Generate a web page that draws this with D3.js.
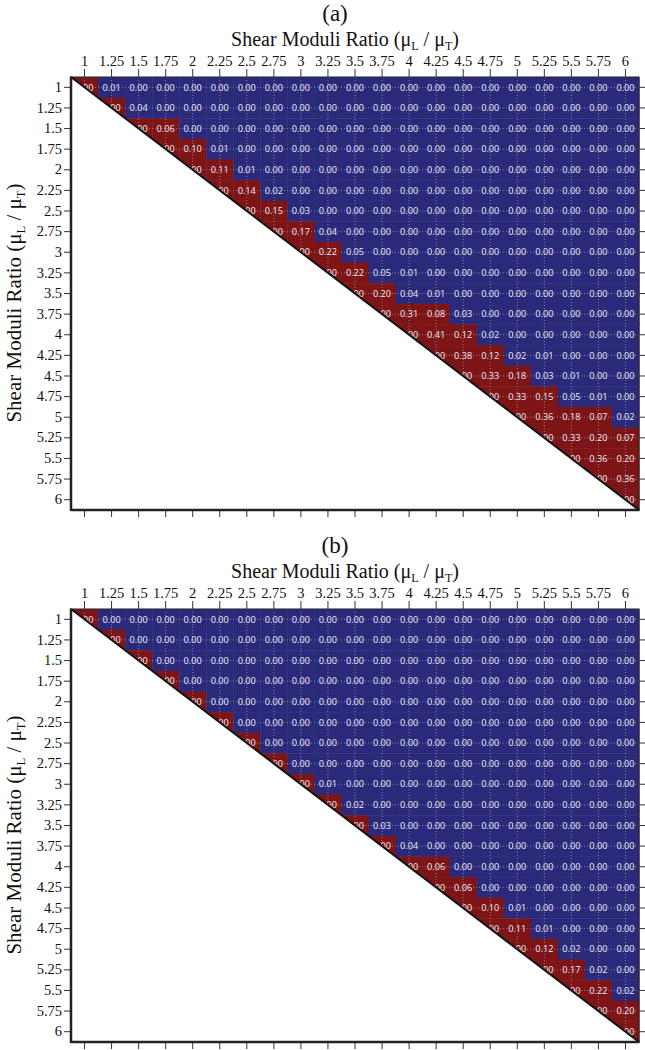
<!DOCTYPE html>
<html>
<head>
<meta charset="utf-8">
<script src="https://cdn.jsdelivr.net/npm/d3@7/dist/d3.min.js"></script>
<style>
  html, body { margin: 0; padding: 0; background: #fff; }
  svg { display: block; }
</style>
</head>
<body>
<svg id="chart" width="645" height="1050"></svg>
<script>
// ---------- DATA ----------
const ratios = ["1","1.25","1.5","1.75","2","2.25","2.5","2.75","3","3.25","3.5","3.75","4","4.25","4.5","4.75","5","5.25","5.5","5.75","6"];
const panelLabels = ["(a)", "(b)"];
const threshold = 0.05;

// upper triangle rows: row i lists columns i..20 (diagonal first)
const valuesA = [
  [1.00,0.01,0,0,0,0,0,0,0,0,0,0,0,0,0,0,0,0,0,0,0],
  [1.00,0.04,0,0,0,0,0,0,0,0,0,0,0,0,0,0,0,0,0,0],
  [1.00,0.06,0,0,0,0,0,0,0,0,0,0,0,0,0,0,0,0,0],
  [1.00,0.10,0.01,0,0,0,0,0,0,0,0,0,0,0,0,0,0,0],
  [1.00,0.11,0.01,0,0,0,0,0,0,0,0,0,0,0,0,0,0],
  [1.00,0.14,0.02,0,0,0,0,0,0,0,0,0,0,0,0,0],
  [1.00,0.15,0.03,0,0,0,0,0,0,0,0,0,0,0,0],
  [1.00,0.17,0.04,0,0,0,0,0,0,0,0,0,0,0],
  [1.00,0.22,0.05,0,0,0,0,0,0,0,0,0,0],
  [1.00,0.22,0.05,0.01,0,0,0,0,0,0,0,0],
  [1.00,0.20,0.04,0.01,0,0,0,0,0,0,0],
  [1.00,0.31,0.08,0.03,0,0,0,0,0,0],
  [1.00,0.41,0.12,0.02,0,0,0,0,0],
  [1.00,0.38,0.12,0.02,0.01,0,0,0],
  [1.00,0.33,0.18,0.03,0.01,0,0],
  [1.00,0.33,0.15,0.05,0.01,0],
  [1.00,0.36,0.18,0.07,0.02],
  [1.00,0.33,0.20,0.07],
  [1.00,0.36,0.20],
  [1.00,0.36],
  [1.00]
];
const valuesB = [
  [1.00,0,0,0,0,0,0,0,0,0,0,0,0,0,0,0,0,0,0,0,0],
  [1.00,0,0,0,0,0,0,0,0,0,0,0,0,0,0,0,0,0,0,0],
  [1.00,0,0,0,0,0,0,0,0,0,0,0,0,0,0,0,0,0,0],
  [1.00,0,0,0,0,0,0,0,0,0,0,0,0,0,0,0,0,0],
  [1.00,0,0,0,0,0,0,0,0,0,0,0,0,0,0,0,0],
  [1.00,0,0,0,0,0,0,0,0,0,0,0,0,0,0,0],
  [1.00,0,0,0,0,0,0,0,0,0,0,0,0,0,0],
  [1.00,0,0,0,0,0,0,0,0,0,0,0,0,0],
  [1.00,0.01,0,0,0,0,0,0,0,0,0,0,0],
  [1.00,0.02,0,0,0,0,0,0,0,0,0,0],
  [1.00,0.03,0,0,0,0,0,0,0,0,0],
  [1.00,0.04,0,0,0,0,0,0,0,0],
  [1.00,0.06,0,0,0,0,0,0,0],
  [1.00,0.06,0,0,0,0,0,0],
  [1.00,0.10,0.01,0,0,0,0],
  [1.00,0.11,0.01,0,0,0],
  [1.00,0.12,0.02,0,0],
  [1.00,0.17,0.02,0],
  [1.00,0.22,0.02],
  [1.00,0.20],
  [1.00]
];
const panelData = [valuesA, valuesB];

// ---------- LAYOUT ----------
const svg = d3.select("#chart");
const plotLeft = 71, plotWidth = 568, plotHeight = 433;
const panelTops = [77, 609];
const RED = "#7d1517", BLUE = "#2b2a7a";
const serif = "'Liberation Serif', 'Times New Roman', serif";

const x = d3.scaleBand().domain(ratios).range([plotLeft, plotLeft + plotWidth]).padding(0);

panelData.forEach((rows, p) => {
  const top = panelTops[p];
  const y = d3.scaleBand().domain(ratios).range([top, top + plotHeight]).padding(0);
  const g = svg.append("g");

  const cells = [];
  rows.forEach((row, i) => {
    row.forEach((v, k) => {
      cells.push({ r: ratios[i], c: ratios[i + k], v: v });
    });
  });

  // cells
  g.selectAll("rect.cell").data(cells).enter().append("rect")
    .attr("class", "cell")
    .attr("x", d => x(d.c))
    .attr("y", d => y(d.r))
    .attr("width", x.bandwidth() + 0.5)
    .attr("height", y.bandwidth() + 0.5)
    .attr("fill", d => d.v > threshold ? RED : BLUE);

  // dotted grid lines
  g.selectAll("line.vg").data(ratios).enter().append("line")
    .attr("x1", d => x(d) + x.bandwidth() / 2).attr("x2", d => x(d) + x.bandwidth() / 2)
    .attr("y1", top).attr("y2", top + plotHeight)
    .attr("stroke", "#b8b8dc").attr("stroke-width", 0.8)
    .attr("stroke-dasharray", "1,2").attr("opacity", 0.75);
  g.selectAll("line.hg").data(ratios).enter().append("line")
    .attr("y1", d => y(d) + y.bandwidth() / 2).attr("y2", d => y(d) + y.bandwidth() / 2)
    .attr("x1", plotLeft).attr("x2", plotLeft + plotWidth)
    .attr("stroke", "#b8b8dc").attr("stroke-width", 0.8)
    .attr("stroke-dasharray", "1,2").attr("opacity", 0.75);

  // values
  g.selectAll("text.val").data(cells).enter().append("text")
    .attr("x", d => x(d.c) + x.bandwidth() / 2)
    .attr("y", d => y(d.r) + y.bandwidth() / 2)
    .attr("dy", "0.35em")
    .attr("text-anchor", "middle")
    .attr("font-family", "'Open Sans', sans-serif")
    .attr("font-size", 9.2)
    .attr("fill", "#ececf4")
    .text(d => d3.format(".2f")(d.v));

  // white lower triangle + diagonal line
  g.append("path")
    .attr("d", `M${plotLeft},${top} L${plotLeft},${top + plotHeight} L${plotLeft + plotWidth},${top + plotHeight} Z`)
    .attr("fill", "#fff");
  g.append("line")
    .attr("x1", plotLeft).attr("y1", top)
    .attr("x2", plotLeft + plotWidth).attr("y2", top + plotHeight)
    .attr("stroke", "#111").attr("stroke-width", 2);

  // axes
  const styleAxis = (sel) => {
    sel.select(".domain").remove();
    sel.selectAll(".tick line").attr("stroke", "#333").attr("stroke-width", 1);
    sel.selectAll(".tick text").attr("font-family", serif).attr("font-size", 14.5).attr("fill", "#111");
  };
  g.append("g").attr("transform", `translate(0,${top})`)
    .call(d3.axisTop(x).tickSize(8).tickPadding(3)).call(styleAxis);
  g.append("g").attr("transform", `translate(0,${top + plotHeight})`)
    .call(d3.axisBottom(x).tickSize(7).tickFormat("")).call(styleAxis);
  g.append("g").attr("transform", `translate(${plotLeft},0)`)
    .call(d3.axisLeft(y).tickSize(7).tickPadding(2)).call(styleAxis);
  g.append("g").attr("transform", `translate(${plotLeft + plotWidth},0)`)
    .call(d3.axisRight(y).tickSize(7).tickFormat("")).call(styleAxis);

  // frame
  g.append("rect")
    .attr("x", plotLeft).attr("y", top).attr("width", plotWidth).attr("height", plotHeight)
    .attr("fill", "none").attr("stroke", "#222").attr("stroke-width", 1);
  g.append("line").attr("x1", plotLeft).attr("x2", plotLeft).attr("y1", top - 0.5).attr("y2", top + plotHeight + 1)
    .attr("stroke", "#222").attr("stroke-width", 2.5);
  g.append("line").attr("x1", plotLeft).attr("x2", plotLeft + plotWidth + 0.5).attr("y1", top + plotHeight).attr("y2", top + plotHeight)
    .attr("stroke", "#222").attr("stroke-width", 2.5);

  // titles
  g.append("text")
    .attr("x", 335).attr("y", top - 56)
    .attr("text-anchor", "middle")
    .attr("font-family", serif).attr("font-size", 23).attr("fill", "#111")
    .text(panelLabels[p]);

  const addRatioTitle = (t) => {
    t.append("tspan").text("Shear Moduli Ratio (\u03bc");
    t.append("tspan").attr("font-size", "0.6em").attr("dy", 4).text("L");
    t.append("tspan").attr("dy", -4).text(" / \u03bc");
    t.append("tspan").attr("font-size", "0.6em").attr("dy", 4).text("T");
    t.append("tspan").attr("dy", -4).text(")");
  };
  const xt = g.append("text")
    .attr("x", 345).attr("y", top - 31)
    .attr("text-anchor", "middle")
    .attr("font-family", serif).attr("font-size", 20).attr("fill", "#111");
  addRatioTitle(xt);

  const yt = g.append("text")
    .attr("transform", `translate(21,${top + 226}) rotate(-90)`)
    .attr("text-anchor", "middle")
    .attr("font-family", serif).attr("font-size", 21).attr("fill", "#111");
  addRatioTitle(yt);
});
</script>
</body>
</html>
